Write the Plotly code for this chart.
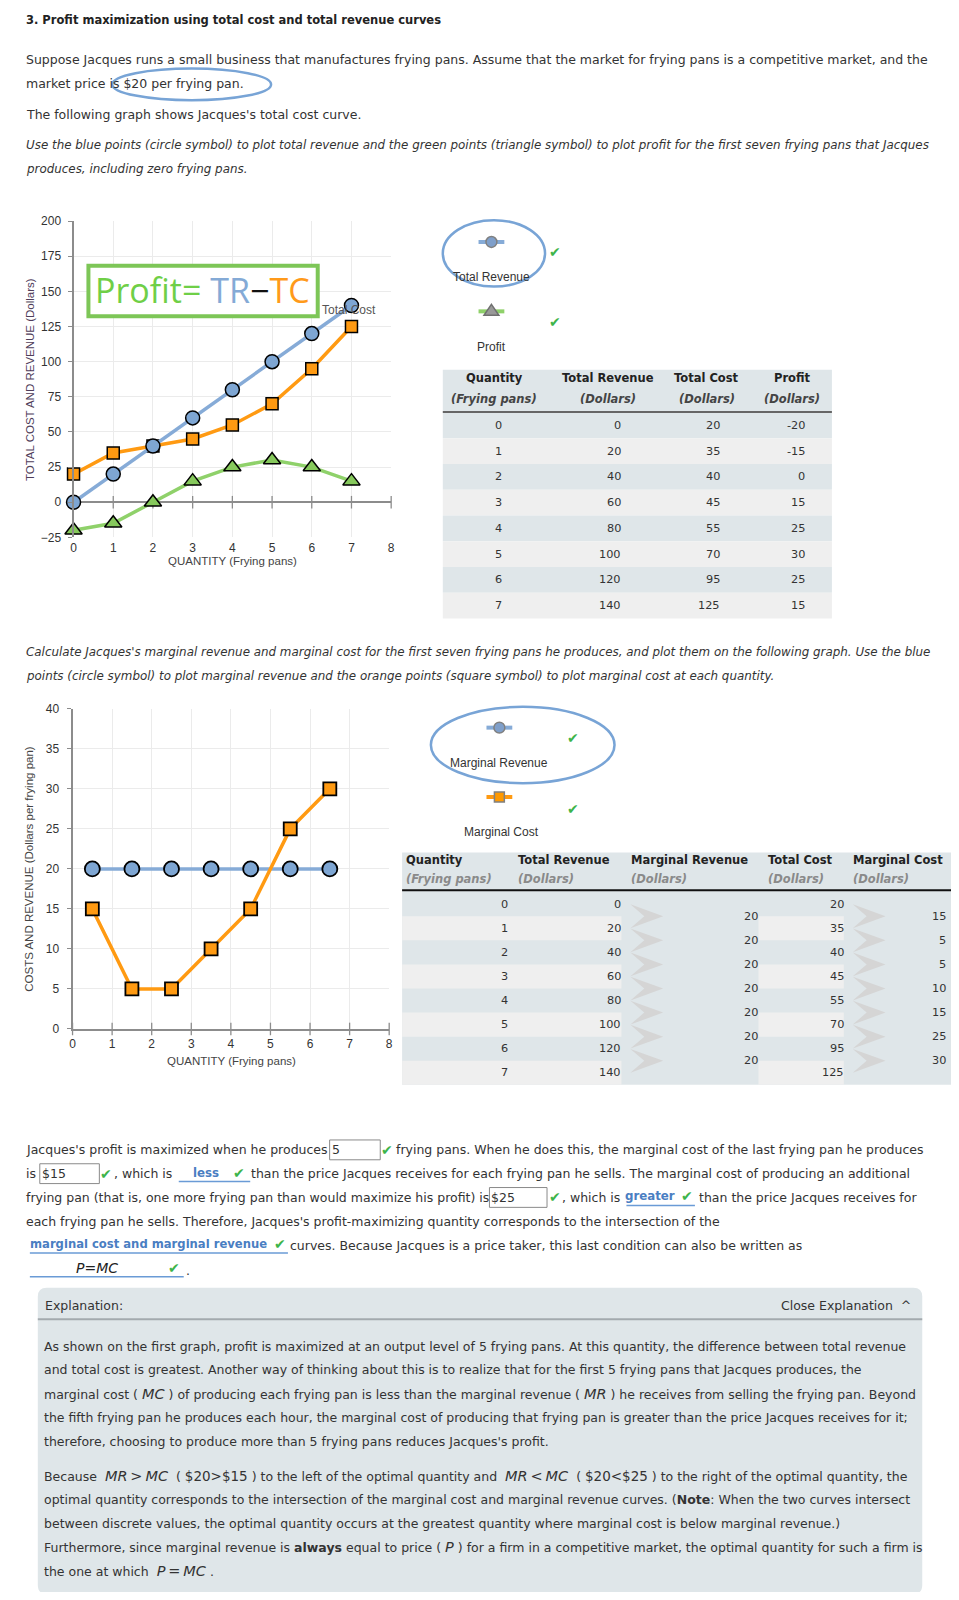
import plotly.graph_objects as go

# ---------------- data ----------------
quantity = [0, 1, 2, 3, 4, 5, 6, 7]
total_revenue = [0, 20, 40, 60, 80, 100, 120, 140]
total_cost = [20, 35, 40, 45, 55, 70, 95, 125]
profit = [-20, -15, 0, 15, 25, 30, 25, 15]

marginal_q = [0.5, 1.5, 2.5, 3.5, 4.5, 5.5, 6.5]
marginal_revenue = [20, 20, 20, 20, 20, 20, 20]
marginal_cost = [15, 5, 5, 10, 15, 25, 30]

x_ticks = [0, 1, 2, 3, 4, 5, 6, 7, 8]
y_ticks_total = [-25, 0, 25, 50, 75, 100, 125, 150, 175, 200]
y_ticks_marginal = [0, 5, 10, 15, 20, 25, 30, 35, 40]

# ---------------- page geometry (pixel -> paper) ----------------
OFF = 8
FW, FH = 951, 1584


def X(p):
    return (p - OFF) / FW


def Y(p):
    return 1 - (p - OFF) / FH


BODY_FONT = "DejaVu Sans"
CHART_FONT = "Liberation Sans"
BODY = 12.5
ITAL = 11.9
TXT = "#333333"
AXIS = "#8c8c8c"
GRID = "#ebebeb"
BLUE_LINE = "#86abd7"
BLUE_MK = "#7ea6d3"
ORANGE = "#ff9a12"
GREEN_LINE = "#8fd16a"
GREEN_MK = "#86c95c"
CHECK = "#3cb44b"
LINK = "#4a7ec2"
HAND = "#78a4d6"
TBL_BLUE = "#dfe6e9"
TBL_GRAY = "#efefef"

ann = []
shapes = []


def text(x, y, s, size=BODY, color=TXT, anchor="left", family=BODY_FONT, angle=0):
    if anchor == "left":
        x -= 3
    elif anchor == "right":
        x += 3
    ann.append(dict(x=X(x), y=Y(y), xref="paper", yref="paper", text=s, showarrow=False,
                    xanchor=anchor, yanchor="middle", textangle=angle,
                    font=dict(size=size, color=color, family=family)))


def check(x, y, size=14):
    text(x, y, "✔", size=size, color=CHECK, anchor="center")


def rect(x0, y0, x1, y1, fill=None, line=None, lw=0, layer="below"):
    shapes.append(dict(type="rect", xref="paper", yref="paper", x0=X(x0), x1=X(x1), y0=Y(y1), y1=Y(y0),
                       fillcolor=fill if fill else "rgba(0,0,0,0)",
                       line=dict(color=line if line else "rgba(0,0,0,0)", width=lw), layer=layer))


def hline(x0, x1, y, color, width, layer="above"):
    shapes.append(dict(type="line", xref="paper", yref="paper", x0=X(x0), x1=X(x1), y0=Y(y), y1=Y(y),
                       line=dict(color=color, width=width), layer=layer))


def ellipse(x0, y0, x1, y1, color, width, fill=None, layer="above"):
    shapes.append(dict(type="circle", xref="paper", yref="paper", x0=X(x0), x1=X(x1), y0=Y(y1), y1=Y(y0),
                       line=dict(color=color, width=width),
                       fillcolor=fill if fill else "rgba(0,0,0,0)", layer=layer))


def poly(points, fill, line=None, lw=0, layer="above"):
    d = "M " + " L ".join(f"{X(px):.6f},{Y(py):.6f}" for px, py in points) + " Z"
    shapes.append(dict(type="path", xref="paper", yref="paper", path=d, fillcolor=fill,
                       line=dict(color=line if line else "rgba(0,0,0,0)", width=lw), layer=layer))


def input_box(x0, y0, x1, y1, val):
    rect(x0, y0, x1, y1, fill="white", line="#8a8a8a", lw=1, layer="above")
    text(x0 + 3, (y0 + y1) / 2, val)


# ---------------- figure & traces ----------------
fig = go.Figure()

# chart 1: tick marks crossing the zero line
fig.add_trace(go.Scatter(x=x_ticks, y=[0] * len(x_ticks), mode="markers", xaxis="x", yaxis="y",
                         marker=dict(symbol="line-ns", size=9, line=dict(width=1.3, color=AXIS)),
                         hoverinfo="skip", showlegend=False, cliponaxis=False))
fig.add_trace(go.Scatter(x=quantity, y=profit, mode="lines+markers", name="Profit", xaxis="x", yaxis="y",
                         line=dict(color=GREEN_LINE, width=3.5),
                         marker=dict(symbol="triangle-up", size=15, color=GREEN_MK,
                                     line=dict(color="black", width=1.5)),
                         showlegend=False, cliponaxis=False))
fig.add_trace(go.Scatter(x=quantity, y=total_cost, mode="lines+markers", name="Total Cost", xaxis="x", yaxis="y",
                         line=dict(color=ORANGE, width=3.5),
                         marker=dict(symbol="square", size=12, color=ORANGE,
                                     line=dict(color="black", width=1.5)),
                         showlegend=False, cliponaxis=False))
fig.add_trace(go.Scatter(x=quantity, y=total_revenue, mode="lines+markers", name="Total Revenue", xaxis="x",
                         yaxis="y", line=dict(color=BLUE_LINE, width=3.5),
                         marker=dict(symbol="circle", size=14, color=BLUE_MK,
                                     line=dict(color="black", width=1.5)),
                         showlegend=False, cliponaxis=False))

# chart 2
fig.add_trace(go.Scatter(x=x_ticks, y=[0] * len(x_ticks), mode="markers", xaxis="x2", yaxis="y2",
                         marker=dict(symbol="line-ns", size=9, line=dict(width=1.3, color=AXIS)),
                         hoverinfo="skip", showlegend=False, cliponaxis=False))
fig.add_trace(go.Scatter(x=marginal_q, y=marginal_revenue, mode="lines+markers", name="Marginal Revenue",
                         xaxis="x2", yaxis="y2", line=dict(color=BLUE_LINE, width=3.5),
                         marker=dict(symbol="circle", size=15, color=BLUE_MK,
                                     line=dict(color="black", width=1.8)),
                         showlegend=False, cliponaxis=False))
fig.add_trace(go.Scatter(x=marginal_q, y=marginal_cost, mode="lines+markers", name="Marginal Cost",
                         xaxis="x2", yaxis="y2", line=dict(color=ORANGE, width=3.5),
                         marker=dict(symbol="square", size=13, color=ORANGE,
                                     line=dict(color="black", width=1.8)),
                         showlegend=False, cliponaxis=False))

tickfont = dict(family=CHART_FONT, size=12, color="#333")
grid = dict(showgrid=True, gridcolor=GRID, gridwidth=1, fixedrange=True, tickfont=tickfont)

C1_TOP, C1_BOT = 216, 535
C2_TOP, C2_BOT = 708, 1031

layout_axes = dict(
    xaxis=dict(domain=[X(71), X(391)], range=[0, 8], tickvals=x_ticks, anchor="y", zeroline=False,
               showline=False, ticks="", ticklabelstandoff=2, **grid),
    yaxis=dict(domain=[Y(C1_BOT), Y(C1_TOP)], range=[-25, 200], tickvals=y_ticks_total, anchor="x",
               zeroline=True, zerolinecolor=AXIS, zerolinewidth=2, showline=True, linecolor=AXIS,
               linewidth=2, ticks="outside", ticklen=4, tickcolor=AXIS, ticklabelstandoff=4, **grid),
    xaxis2=dict(domain=[X(70), X(389)], range=[0, 8], tickvals=x_ticks, anchor="y2", zeroline=False,
                showline=True, linecolor=AXIS, linewidth=2, ticks="", ticklabelstandoff=3, **grid),
    yaxis2=dict(domain=[Y(C2_BOT), Y(C2_TOP)], range=[0, 40], tickvals=y_ticks_marginal, anchor="x2",
                zeroline=False, showline=True, linecolor=AXIS, linewidth=2, ticks="outside", ticklen=4,
                tickcolor=AXIS, ticklabelstandoff=5, **grid),
)

# axis titles
text(231, 559, "QUANTITY (Frying pans)", size=11.5, color="#444", anchor="center", family=CHART_FONT)
text(27, (C1_TOP + C1_BOT) / 2, "TOTAL COST AND REVENUE (Dollars)", size=11.5, color="#4f3d5a",
     anchor="center", family=CHART_FONT, angle=-90)
text(230, 1063, "QUANTITY (Frying pans)", size=11.5, color="#444", anchor="center", family=CHART_FONT)
text(26, (C2_TOP + C2_BOT) / 2, "COSTS AND REVENUE (Dollars per frying pan)", size=11.5, color="#444",
     anchor="center", family=CHART_FONT, angle=-90)

# chart 1 annotations
text(349, 306, "Total Cost", size=12, color="#555", anchor="center", family=CHART_FONT)
rect(86, 261, 317, 312, fill="white", line="#7dc657", lw=4, layer="above")
text(201, 285,
     '<span style="color:#6fcf47">Profit=</span> <span style="color:#84aad6">TR</span>'
     '<span style="color:#111">−</span><span style="color:#ff9a1a">TC</span>',
     size=34, color="#6fcf47", anchor="center", family="Open Sans")

# ---------------- top text ----------------
text(24, 13, "<b>3. Profit maximization using total cost and total revenue curves</b>", size=11.5, color="#222")
text(24, 53, "Suppose Jacques runs a small business that manufactures frying pans. Assume that the market for "
             "frying pans is a competitive market, and the")
text(24, 77, "market price is $20 per frying pan.")
text(24, 108, "The following graph shows Jacques's total cost curve.")
text(24, 139, "<i>Use the blue points (circle symbol) to plot total revenue and the green points (triangle symbol) "
              "to plot profit for the first seven frying pans that Jacques</i>", size=ITAL)
text(24, 163, "<i>produces, including zero frying pans.</i>", size=ITAL)
ellipse(110, 62, 270, 94, HAND, 2.5)

# ---------------- legend 1 ----------------
hline(479, 505, 237, BLUE_LINE, 4)
ellipse(486.5, 231.5, 497.5, 242.5, "#808080", 1.5, fill="#7f9fca")
text(492, 272, "Total Revenue", size=12, color="#333", anchor="center", family=CHART_FONT)
check(556, 247)
hline(479, 505, 307, GREEN_LINE, 4)
poly([(492, 300), (499.5, 311), (484.5, 311)], fill="#999999", line="#707070", lw=1.5)
text(492, 343, "Profit", size=12, color="#333", anchor="center", family=CHART_FONT)
check(556, 318)
ellipse(443, 215, 546, 282, HAND, 2.5)

# ---------------- table 1 ----------------
T1L, T1R = 443, 835
rect(T1L, 366, T1R, 408, fill=TBL_BLUE)
for i in range(len(quantity)):
    rect(T1L, 409 + 26 * i, T1R, 435 + 26 * i, fill=TBL_BLUE if i % 2 == 0 else TBL_GRAY)
hline(T1L, T1R, 408.5, "#666666", 2, layer="below")
t1_heads = [("Quantity", "(Frying pans)", 495), ("Total Revenue", "(Dollars)", 609),
            ("Total Cost", "(Dollars)", 709), ("Profit", "(Dollars)", 795)]
for h1, h2, cx in t1_heads:
    text(cx, 374, f"<b>{h1}</b>", size=11.5, color="#222", anchor="center")
    text(cx, 395, f"<b><i>{h2}</i></b>", size=11.5, color="#444", anchor="center")
for i in range(len(quantity)):
    yc = 422 + 26 * i
    text(499, yc, str(quantity[i]), size=11.3, anchor="center")
    text(622, yc, str(total_revenue[i]), size=11.3, anchor="right")
    text(721, yc, str(total_cost[i]), size=11.3, anchor="right")
    text(807, yc, str(profit[i]), size=11.3, anchor="right")

# ---------------- middle text ----------------
text(24, 651, "<i>Calculate Jacques's marginal revenue and marginal cost for the first seven frying pans he produces, "
              "and plot them on the following graph. Use the blue</i>", size=ITAL)
text(24, 675, "<i>points (circle symbol) to plot marginal revenue and the orange points (square symbol) to plot "
              "marginal cost at each quantity.</i>", size=ITAL)

# ---------------- legend 2 ----------------
hline(487, 513, 727, BLUE_LINE, 4)
ellipse(494.5, 721.5, 505.5, 732.5, "#808080", 1.5, fill="#7f9fca")
text(500, 763, "Marginal Revenue", size=12, color="#333", anchor="center", family=CHART_FONT)
check(574, 737)
hline(487, 513, 797, ORANGE, 4)
rect(495, 792, 505, 802, fill="#ff9900", line="#808080", lw=1.5, layer="above")
text(502, 832, "Marginal Cost", size=12, color="#333", anchor="center", family=CHART_FONT)
check(574, 809)
ellipse(431, 706, 616, 783, HAND, 2.5)

# ---------------- table 2 ----------------
T2L, T2R = 402, 959
R0, RP = 893, 24.3
rect(T2L, 853, T2R, R0 + 8 * RP, fill=TBL_BLUE)
for i in range(len(quantity)):
    if i % 2 == 1:
        rect(T2L, R0 + RP * i, 623, R0 + RP * (i + 1), fill=TBL_GRAY)
        rect(761, R0 + RP * i, 847, R0 + RP * (i + 1), fill=TBL_GRAY)
hline(T2L, T2R, 891, "#111111", 2, layer="below")
t2_heads = [("Quantity", "(Frying pans)", 407), ("Total Revenue", "(Dollars)", 520),
            ("Marginal Revenue", "(Dollars)", 634), ("Total Cost", "(Dollars)", 772),
            ("Marginal Cost", "(Dollars)", 857)]
for h1, h2, lx in t2_heads:
    text(lx, 861, f"<b>{h1}</b>", size=11.5, color="#222")
    text(lx, 880, f"<b><i>{h2}</i></b>", size=11.5, color="#8a8a8a")
for i in range(len(quantity)):
    yc = R0 + RP * (i + 0.5)
    text(508, yc, str(quantity[i]), size=11.3, anchor="right")
    text(622, yc, str(total_revenue[i]), size=11.3, anchor="right")
    text(846, yc, str(total_cost[i]), size=11.3, anchor="right")
for i in range(len(marginal_q)):
    yb = R0 + RP * (i + 1)
    for cx0 in (632, 856):
        poly([(cx0, yb - 12), (cx0 + 33, yb), (cx0, yb + 12), (cx0 + 14, yb)], fill="#d5d5d5", layer="below")
    text(760, yb, str(marginal_revenue[i]), size=11.3, anchor="right")
    text(949, yb, str(marginal_cost[i]), size=11.3, anchor="right")

# ---------------- bottom text ----------------
L1, L2, L3, L4, L5, L6 = 1153, 1177, 1201, 1225, 1249, 1273
text(24, L1, "Jacques's profit is maximized when he produces")
input_box(329, L1 - 10, 380, L1 + 10, "5")
check(387, L1)
text(397, L1, "frying pans. When he does this, the marginal cost of the last frying pan he produces")

text(24, L2, "is")
input_box(37, L2 - 10, 97, L2 + 10, "$15")
check(104, L2)
text(113, L2, ", which is")
hline(177, 249, L2 + 8, "#6a9bd6", 1.5)
text(204, L2 - 1, "<b>less</b>", size=11.8, color=LINK, anchor="center")
check(238, L2 - 1)
text(251, L2, "than the price Jacques receives for each frying pan he sells. The marginal cost of producing an "
              "additional")

text(24, L3, "frying pan (that is, one more frying pan than would maximize his profit) is")
input_box(490, L3 - 10, 548, L3 + 10, "$25")
check(556, L3)
text(564, L3, ", which is")
hline(628, 697, L3 + 8, "#6a9bd6", 1.5)
text(628, L3 - 1, "<b>greater</b>", size=11.8, color=LINK)
check(689, L3 - 1)
text(702, L3, "than the price Jacques receives for")

text(24, L4, "each frying pan he sells. Therefore, Jacques's profit-maximizing quantity corresponds to the "
             "intersection of the")

hline(27, 287, L5 + 8, "#6a9bd6", 1.5)
text(28, L5 - 1, "<b>marginal cost and marginal revenue</b>", size=11.6, color=LINK)
check(279, L5 - 1)
text(290, L5, "curves. Because Jacques is a price taker, this last condition can also be written as")

hline(27, 182, L6 + 8, "#6a9bd6", 1.5)
text(95, L6 - 1, "<i>P</i>=<i>MC</i>", size=14, color="#222", anchor="center")
check(172, L6 - 1)
text(185, L6 + 2, ".")


# ---------------- explanation box ----------------
def rounded_rect(x0, y0, x1, y1, r):
    rx, ry = r / FW, r / FH
    a, b, t, u = X(x0), X(x1), Y(y0), Y(y1)
    return (f"M {a + rx},{t} L {b - rx},{t} Q {b},{t} {b},{t - ry} L {b},{u + ry} Q {b},{u} {b - rx},{u} "
            f"L {a + rx},{u} Q {a},{u} {a},{u + ry} L {a},{t - ry} Q {a},{t} {a + rx},{t} Z")


shapes.append(dict(type="path", xref="paper", yref="paper", path=rounded_rect(35, 1292, 926, 1601, 9),
                   fillcolor=TBL_BLUE, line=dict(color="rgba(0,0,0,0)", width=0), layer="below"))
hline(35, 926, 1324, "#a3aaae", 2, layer="below")
text(43, 1310, "Explanation:")
text(914, 1310, "Close Explanation  ^", anchor="right")

TS = "\u2009"
M = lambda s: f'<span style="font-size:14.5px"><i>{s}</i></span>'
N = lambda s: f'<span style="font-size:13.5px">{s}</span>'
EY = 1351
exp_lines = [
    (EY, "As shown on the first graph, profit is maximized at an output level of 5 frying pans. At this quantity, "
         "the difference between total revenue"),
    (EY + 24, "and total cost is greatest. Another way of thinking about this is to realize that for the first 5 "
              "frying pans that Jacques produces, the"),
    (EY + 48, f"marginal cost ( {M('MC')} ) of producing each frying pan is less than the marginal revenue "
              f"( {M('MR')} ) he receives from selling the frying pan. Beyond"),
    (EY + 72, "the fifth frying pan he produces each hour, the marginal cost of producing that frying pan is greater "
              "than the price Jacques receives for it;"),
    (EY + 96, "therefore, choosing to produce more than 5 frying pans reduces Jacques's profit."),
    (EY + 131, f"Because  {M('MR' + TS + '&gt;' + TS + 'MC')}  ( {N('$20&gt;$15')} ) to the "
               f"left of the optimal quantity and  {M('MR' + TS + '&lt;' + TS + 'MC')}  "
               f"( {N('$20&lt;$25')} ) to the right of the optimal quantity, the"),
    (EY + 155, "optimal quantity corresponds to the intersection of the marginal cost and marginal revenue curves. "
               "(<b>Note</b>: When the two curves intersect"),
    (EY + 179, "between discrete values, the optimal quantity occurs at the greatest quantity where marginal cost is "
               "below marginal revenue.)"),
    (EY + 203, f"Furthermore, since marginal revenue is <b>always</b> equal to price ( {M('P')} ) for a firm in a "
               "competitive market, the optimal quantity for such a firm is"),
    (EY + 227, f"the one at which  {M('P' + TS + '=' + TS + 'MC')} ."),
]
for yy, s in exp_lines:
    text(42, yy, s)

fig.update_layout(
    width=FW, height=FH, margin=dict(l=0, r=0, t=0, b=0),
    paper_bgcolor="white", plot_bgcolor="white",
    showlegend=False, annotations=ann, shapes=shapes,
    font=dict(family=BODY_FONT, color=TXT),
    **layout_axes,
)

fig.write_html("out.html")
